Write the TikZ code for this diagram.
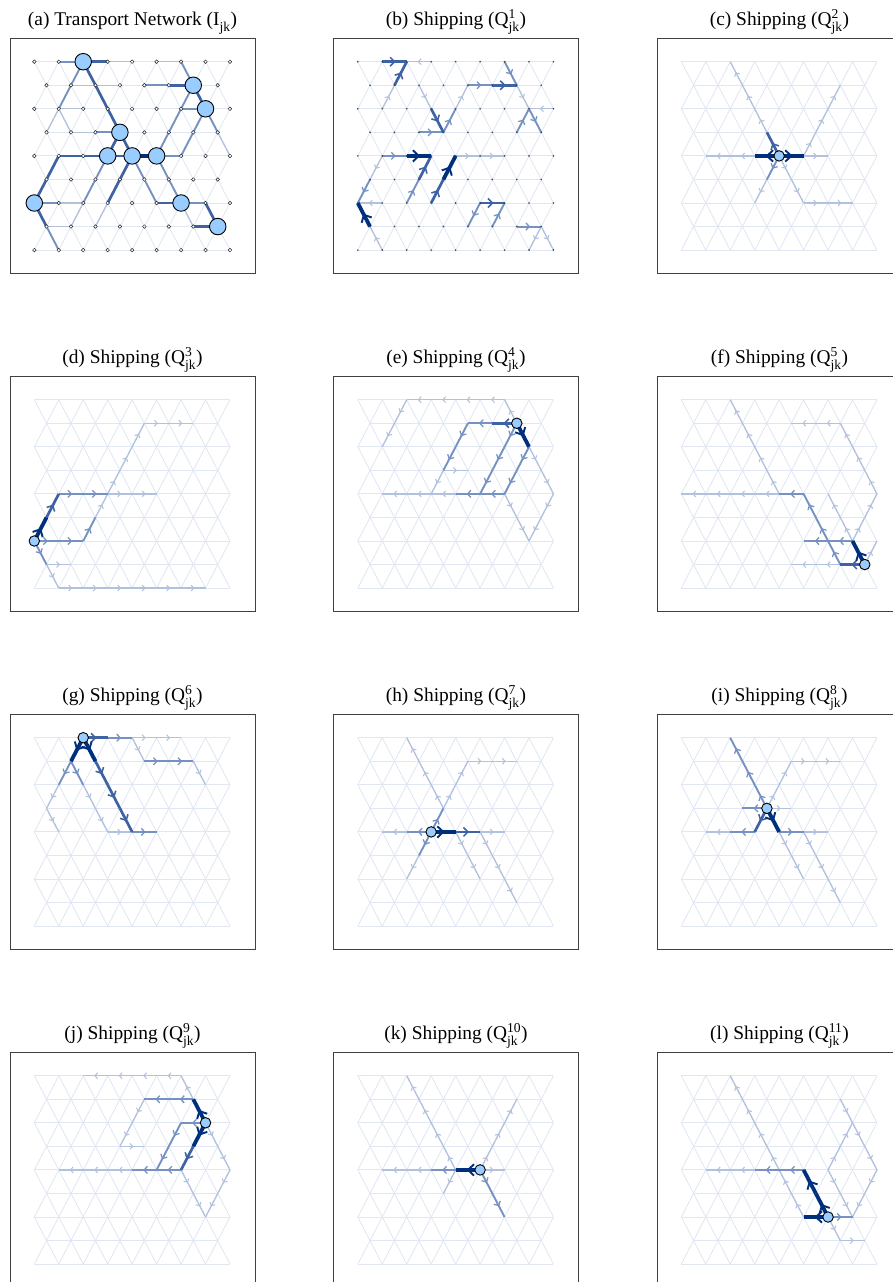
\documentclass[tikz,border=0pt]{standalone}
\usepackage{amsmath}
\usepackage{fontspec}
\setmainfont{Liberation Serif}
\usetikzlibrary{arrows.meta,decorations.markings}

\definecolor{netfaint}{RGB}{224,231,242}
\definecolor{netlight}{RGB}{178,194,222}
\definecolor{netmid}{RGB}{118,146,194}
\definecolor{netdark}{RGB}{62,98,164}
\definecolor{netdeep}{RGB}{0,48,125}
\definecolor{cityfill}{RGB}{153,204,255}

\tikzset{
  faint/.style={draw=netfaint,line width=0.85pt},
  lvlone/.style={draw=netlight,line width=1.3pt},
  lvltwo/.style={draw=netmid,line width=1.9pt},
  lvlthree/.style={draw=netdark,line width=2.7pt},
  lvlfour/.style={draw=netdeep,line width=3.8pt},
  flowarrow/.style={postaction={decorate,decoration={markings,
      mark=at position 0.55 with {\arrow{Straight Barb[length=1pt 1.3,width=3pt 2.2,line width=0.6pt 0.35]}}}}},
  panelframe/.style={draw=black!75,line width=1pt},
  paneltitle/.style={anchor=base,inner sep=0pt,font=\fontsize{19.4}{23}\selectfont},
  city/.style={circle,draw=black,fill=cityfill,line width=0.9pt,inner sep=0pt,minimum size=10.5pt},
  bigcity/.style={city,minimum size=16.5pt},
  site/.style={circle,draw=black!85,fill=white,line width=0.5pt,inner sep=0pt,minimum size=3.6pt},
  nodedot/.style={circle,fill=black!75,inner sep=0pt,minimum size=1.8pt}
}

% grid points of one panel: (#1-k-r), k = 2*column, r = row
\newcommand\netgrid[3]{%
  \foreach \r in {0,2,4,6,8}{\foreach \k in {0,2,...,16}{%
    \coordinate (#1-\k-\r) at (#2+\k*12.23,#3+\r*23.55);}}
  \foreach \r in {1,3,5,7}{\foreach \k in {1,3,...,15}{%
    \coordinate (#1-\k-\r) at (#2+\k*12.23,#3+\r*23.55);}}
  \foreach \r/\s in {0/1,2/3,4/5,6/7}{%
    \foreach \k [evaluate=\k as \kn using int(\k+1)] in {0,2,...,14}{%
      \draw[faint] (#1-\k-\r) -- (#1-\kn-\s);}
    \foreach \k [evaluate=\k as \kn using int(\k-1)] in {2,4,...,16}{%
      \draw[faint] (#1-\k-\r) -- (#1-\kn-\s);}}
  \foreach \r/\s in {1/2,3/4,5/6,7/8}{%
    \foreach \k [evaluate=\k as \ka using int(\k-1),evaluate=\k as \kb using int(\k+1)] in {1,3,...,15}{%
      \draw[faint] (#1-\k-\r) -- (#1-\ka-\s);
      \draw[faint] (#1-\k-\r) -- (#1-\kb-\s);}}
  \foreach \r in {0,2,4,6,8}{%
    \foreach \k [evaluate=\k as \kn using int(\k+2)] in {0,2,...,14}{%
      \draw[faint] (#1-\k-\r) -- (#1-\kn-\r);}}
  \foreach \r in {1,3,5,7}{%
    \foreach \k [evaluate=\k as \kn using int(\k+2)] in {1,3,...,13}{%
      \draw[faint] (#1-\k-\r) -- (#1-\kn-\r);}}
}

% frame, title and lattice
\newcommand\netpanel[4]{%
  \node[paneltitle] (#1-title) at (#2+122.5,#3-12.5) {#4};
  \draw[panelframe] (#2,#3) rectangle ++(245,235);
  \netgrid{#1}{#2+24.3}{#3+23.4}
}

% links of one panel
\newcommand\netlinks[3]{%
  \foreach \u/\v in {#3}{\draw[#2] (#1-\u) -- (#1-\v);}}

\begin{document}
\begin{tikzpicture}[x=1pt,y=-1pt]
\useasboundingbox (0,0) rectangle (893,1282);

% (a) network
\netpanel{a}{10}{38.3}{(a) Transport Network (I$^{}_{\text{jk}}$)}
\netlinks{a}{lvlone}{6-0/8-0,10-0/12-0,3-1/5-1,5-1/7-1,2-2/4-2,3-3/5-3,2-6/4-6,1-7/3-7,2-2/1-3,4-6/3-7,6-6/5-7,15-3/16-4,12-6/13-7,2-2/3-3}
\netlinks{a}{lvltwo}{2-0/4-0,9-1/11-1,12-2/14-2,5-3/7-3,10-4/12-4,0-6/2-6,12-6/14-6,4-0/3-1,3-1/2-2,1-7/2-8,6-4/5-5,5-5/4-6,10-4/11-3,11-3/12-2,12-2/13-1,10-4/11-5,11-5/12-6,8-4/9-5,9-5/10-6,13-1/12-0,14-2/13-3,13-3/12-4,14-2/15-3}
\netlinks{a}{lvlthree}{4-0/6-0,11-1/13-1,2-4/4-4,4-4/6-4,6-4/8-4,10-6/12-6,13-7/15-7,4-0/5-1,5-1/6-2,6-2/7-3,7-3/6-4,7-3/8-4,2-4/1-5,1-5/0-6,0-6/1-7,8-4/7-5,7-5/6-6,13-1/14-2,14-6/15-7}
\netlinks{a}{lvlfour}{8-4/10-4}
\foreach \r in {0,2,4,6,8}{\foreach \k in {0,2,...,16}{\node[site] (a-s-\k-\r) at (a-\k-\r) {};}}
\foreach \r in {1,3,5,7}{\foreach \k in {1,3,...,15}{\node[site] (a-s-\k-\r) at (a-\k-\r) {};}}
\foreach \c in {4-0,13-1,14-2,7-3,6-4,8-4,10-4,0-6,12-6,15-7}{\node[bigcity] (a-city-\c) at (a-\c) {};}

% (b) good 1
\netpanel{b}{333.5}{38.3}{(b) Shipping (Q$^{\text{1}}_{\text{jk}}$)}
\netlinks{b}{lvlone,flowarrow}{2-6/0-6,6-0/4-0,16-2/14-2,2-4/1-5,2-8/1-7,2-2/3-1,13-1/14-2,5-1/6-2,8-2/9-1,8-4/10-4,10-4/12-4,15-7/16-8,15-7/14-8}
\netlinks{b}{lvltwo,flowarrow}{2-4/4-4,4-6/5-5,1-5/0-6,9-1/11-1,12-0/13-1,13-3/14-2,14-2/15-3,5-3/7-3,7-3/8-2,11-7/12-6,10-6/9-7,13-7/15-7}
\netlinks{b}{lvlthree,flowarrow}{5-5/6-4,6-6/7-5,2-0/4-0,3-1/4-0,11-1/13-1,6-2/7-3,10-6/12-6}
\netlinks{b}{lvlfour,flowarrow}{4-4/6-4,7-5/8-4,1-7/0-6}
\foreach \r in {0,2,4,6,8}{\foreach \k in {0,2,...,16}{\node[nodedot] (b-s-\k-\r) at (b-\k-\r) {};}}
\foreach \r in {1,3,5,7}{\foreach \k in {1,3,...,15}{\node[nodedot] (b-s-\k-\r) at (b-\k-\r) {};}}

% (c) good 2
\netpanel{c}{657}{38.3}{(c) Shipping (Q$^{\text{2}}_{\text{jk}}$)}
\netlinks{c}{lvlone,flowarrow}{6-4/4-4,4-4/2-4,10-4/12-4,7-3/6-2,6-2/5-1,5-1/4-0,7-5/6-6,8-4/9-5,9-5/10-6,10-6/12-6,12-6/14-6,10-4/11-3,11-3/12-2,12-2/13-1}
\netlinks{c}{lvltwo,flowarrow}{8-4/7-5}
\netlinks{c}{lvlthree,flowarrow}{8-4/7-3}
\netlinks{c}{lvlfour,flowarrow}{8-4/6-4,8-4/10-4}
\node[city] (c-city) at (c-8-4) {};

% (d) good 3
\netpanel{d}{10}{376.3}{(d) Shipping (Q$^{\text{3}}_{\text{jk}}$)}
\netlinks{d}{lvlone,flowarrow}{6-4/8-4,8-4/10-4,5-5/6-4,1-7/3-7,1-7/2-8,2-8/4-8,4-8/6-8,6-8/8-8,8-8/10-8,10-8/12-8,12-8/14-8,6-4/7-3,7-3/8-2,8-2/9-1,9-1/11-1,11-1/13-1}
\netlinks{d}{lvltwo,flowarrow}{2-4/4-4,4-4/6-4,0-6/2-6,2-6/4-6,4-6/5-5,0-6/1-7}
\netlinks{d}{lvlthree,flowarrow}{1-5/2-4}
\netlinks{d}{lvlfour,flowarrow}{0-6/1-5}
\node[city] (d-city) at (d-0-6) {};

% (e) good 4
\netpanel{e}{333.5}{376.3}{(e) Shipping (Q$^{\text{4}}_{\text{jk}}$)}
\netlinks{e}{lvlone,flowarrow}{7-3/9-3,7-3/6-4,8-4/6-4,6-4/4-4,4-4/2-4,13-1/12-0,12-0/10-0,10-0/8-0,8-0/6-0,6-0/4-0,4-0/3-1,3-1/2-2,14-2/15-3,15-3/16-4,16-4/15-5,15-5/14-6,12-4/13-5,13-5/14-6}
\netlinks{e}{lvltwo,flowarrow}{11-1/9-1,9-1/8-2,8-2/7-3,14-2/13-3,13-3/12-4,12-4/10-4,10-4/8-4,13-1/12-2,12-2/11-3,11-3/10-4}
\netlinks{e}{lvlthree,flowarrow}{13-1/11-1}
\netlinks{e}{lvlfour,flowarrow}{13-1/14-2}
\node[city] (e-city) at (e-13-1) {};

% (f) good 5
\netpanel{f}{657}{376.3}{(f) Shipping (Q$^{\text{5}}_{\text{jk}}$)}
\netlinks{f}{lvlone,flowarrow}{14-6/13-5,13-5/12-4,8-4/6-4,6-4/4-4,4-4/2-4,2-4/0-4,8-4/7-3,7-3/6-2,6-2/5-1,5-1/4-0,13-7/11-7,11-7/9-7,15-7/16-6,14-6/15-5,15-5/16-4,16-4/15-3,15-3/14-2,14-2/13-1,13-1/11-1,11-1/9-1}
\netlinks{f}{lvltwo,flowarrow}{13-7/12-6,12-6/11-5,11-5/10-4,14-6/12-6,12-6/10-6,10-4/8-4}
\netlinks{f}{lvlthree,flowarrow}{15-7/13-7}
\netlinks{f}{lvlfour,flowarrow}{15-7/14-6}
\node[city] (f-city) at (f-15-7) {};

% (g) good 6
\netpanel{g}{10}{714.3}{(g) Shipping (Q$^{\text{6}}_{\text{jk}}$)}
\netlinks{g}{lvlone,flowarrow}{8-0/10-0,10-0/12-0,2-2/1-3,1-3/2-4,4-2/5-3,5-3/6-4,8-0/9-1,13-1/14-2,6-4/8-4}
\netlinks{g}{lvltwo,flowarrow}{6-0/8-0,8-4/10-4,3-1/2-2,3-1/4-2,9-1/11-1,11-1/13-1}
\netlinks{g}{lvlthree,flowarrow}{5-1/6-2,6-2/7-3,7-3/8-4,4-0/6-0}
\netlinks{g}{lvlfour,flowarrow}{4-0/3-1,4-0/5-1}
\node[city] (g-city) at (g-4-0) {};

% (h) good 7
\netpanel{h}{333.5}{714.3}{(h) Shipping (Q$^{\text{7}}_{\text{jk}}$)}
\netlinks{h}{lvlone,flowarrow}{4-4/2-4,5-5/4-6,7-3/8-2,8-2/9-1,9-1/11-1,11-1/13-1,7-3/6-2,6-2/5-1,5-1/4-0,10-4/12-4,10-4/11-5,11-5/12-6,12-6/13-7,8-4/9-5,9-5/10-6}
\netlinks{h}{lvltwo,flowarrow}{6-4/7-3,6-4/4-4,6-4/5-5}
\netlinks{h}{lvlthree,flowarrow}{8-4/10-4}
\netlinks{h}{lvlfour,flowarrow}{6-4/8-4}
\node[city] (h-city) at (h-6-4) {};

% (i) good 8
\netpanel{i}{657}{714.3}{(i) Shipping (Q$^{\text{8}}_{\text{jk}}$)}
\netlinks{i}{lvlone,flowarrow}{4-4/2-4,10-4/12-4,7-3/9-3,7-3/8-2,8-2/9-1,9-1/11-1,11-1/13-1,10-4/11-5,11-5/12-6,12-6/13-7,8-4/9-5,9-5/10-6}
\netlinks{i}{lvltwo,flowarrow}{8-4/10-4,6-4/4-4,7-3/5-3,7-3/6-2,6-2/5-1,5-1/4-0}
\netlinks{i}{lvlthree,flowarrow}{7-3/6-4}
\netlinks{i}{lvlfour,flowarrow}{7-3/8-4}
\node[city] (i-city) at (i-7-3) {};

% (j) good 9
\netpanel{j}{10}{1052.3}{(j) Shipping (Q$^{\text{9}}_{\text{jk}}$)}
\netlinks{j}{lvlone,flowarrow}{8-4/6-4,6-4/4-4,4-4/2-4,13-1/12-0,12-0/10-0,10-0/8-0,8-0/6-0,6-0/4-0,9-1/8-2,8-2/7-3,7-3/9-3,14-2/15-3,15-3/16-4,16-4/15-5,15-5/14-6,12-4/13-5,13-5/14-6}
\netlinks{j}{lvltwo,flowarrow}{13-1/11-1,11-1/9-1,12-4/10-4,10-4/8-4,14-2/12-2,12-2/11-3,11-3/10-4}
\netlinks{j}{lvlthree,flowarrow}{13-3/12-4}
\netlinks{j}{lvlfour,flowarrow}{14-2/13-1,14-2/13-3}
\node[city] (j-city) at (j-14-2) {};

% (k) good 10
\netpanel{k}{333.5}{1052.3}{(k) Shipping (Q$^{\text{10}}_{\text{jk}}$)}
\netlinks{k}{lvlone,flowarrow}{6-4/4-4,4-4/2-4,10-4/12-4,10-4/11-3,11-3/12-2,12-2/13-1,8-4/7-3,7-3/6-2,6-2/5-1,5-1/4-0,8-4/7-5}
\netlinks{k}{lvltwo,flowarrow}{8-4/6-4,10-4/11-5,11-5/12-6}
\netlinks{k}{lvlfour,flowarrow}{10-4/8-4}
\node[city] (k-city) at (k-10-4) {};

% (l) good 11
\netpanel{l}{657}{1052.3}{(l) Shipping (Q$^{\text{11}}_{\text{jk}}$)}
\netlinks{l}{lvlone,flowarrow}{6-4/4-4,4-4/2-4,10-6/9-5,9-5/8-4,12-6/13-7,13-7/15-7,8-4/7-3,7-3/6-2,6-2/5-1,5-1/4-0,12-4/13-3,13-3/14-2,12-4/13-5,13-5/14-6,14-2/15-3,15-3/16-4,16-4/15-5,15-5/14-6,13-1/14-2}
\netlinks{l}{lvltwo,flowarrow}{10-4/8-4,8-4/6-4,12-6/14-6}
\netlinks{l}{lvlfour,flowarrow}{12-6/11-5,11-5/10-4,12-6/10-6}
\node[city] (l-city) at (l-12-6) {};
\end{tikzpicture}
\end{document}
